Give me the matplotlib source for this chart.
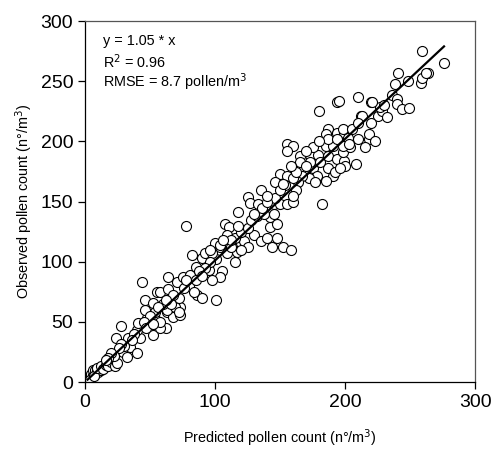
import numpy as np
import matplotlib
matplotlib.use('Agg')
import matplotlib.pyplot as plt

plt.rcParams['font.family'] = ['Liberation Sans', 'DejaVu Sans']

# predicted (x) / observed (y) pollen counts
pred = [3, 4, 5, 5, 6, 7, 6, 8, 8, 9, 10, 10, 11, 12, 13, 4, 7, 9, 12, 14, 16, 18, 20,
        23, 25, 29, 32, 35, 40, 33, 42, 40, 41, 52, 62, 58, 48, 54, 46, 63, 68, 73, 73,
        46, 52, 55, 63, 69, 54, 63, 69, 72, 58, 64, 64, 71, 75, 81, 72, 86, 90, 101,
        85, 90, 95, 101, 105, 104, 98, 82, 92, 100, 104, 98, 109, 113, 117, 122, 125,
        78, 108, 111, 109, 104, 112, 130, 135, 144, 142, 142, 148, 118, 125, 135, 127,
        133, 145, 150, 155, 146, 28, 24, 44, 150, 155, 168, 175, 187, 178, 172, 167,
        191, 146, 154, 164, 177, 185, 165, 173, 179, 165, 173, 181, 187, 194, 199, 208,
        155, 160, 155, 185, 191, 198, 204, 187, 194, 199, 185, 187, 194, 202, 210, 218,
        218, 223, 180, 194, 210, 220, 212, 198, 213, 225, 228, 227, 221, 195, 236, 240,
        240, 244, 249, 238, 241, 248, 258, 259, 264, 259, 276, 262, 182, 152, 158,
        115, 120, 118, 125, 128, 132, 138, 136, 140, 130, 112, 106, 96, 92, 88, 80, 76,
        78, 68, 60, 56, 50, 45, 38, 36, 30, 28, 26, 22, 20, 18, 16, 150, 152, 160, 162,
        158, 160, 162, 170, 175, 180, 170, 198, 205, 210, 215, 220, 230, 232, 200, 192,
        196, 203, 115, 120, 140, 85, 90, 96, 66, 58, 84, 62, 47, 52, 140, 145, 148, 160]
obs = [3, 5, 4, 7, 6, 8, 10, 7, 10, 9, 11, 8, 12, 10, 12, 2, 5, 12, 13, 11, 14, 13, 17,
       13, 16, 25, 21, 29, 24, 37, 37, 43, 49, 39, 45, 45, 53, 52, 60, 58, 54, 56, 62,
       68, 66, 75, 76, 70, 58, 60, 62, 58, 75, 77, 87, 83, 87, 89, 70, 72, 70, 68,
       96, 103, 93, 102, 92, 87, 85, 106, 107, 116, 112, 107, 107, 112, 108, 117, 112,
       130, 131, 129, 122, 114, 112, 122, 117, 112, 129, 137, 131, 141, 154, 160, 149,
       148, 148, 148, 148, 153, 47, 37, 83, 173, 171, 177, 178, 178, 171, 170, 171,
       171, 166, 164, 166, 166, 167, 188, 189, 189, 183, 183, 183, 188, 185, 184, 181,
       198, 196, 192, 196, 196, 191, 195, 210, 207, 207, 206, 202, 202, 203, 202, 202,
       206, 200, 225, 233, 237, 233, 221, 210, 221, 221, 225, 229, 233, 234, 239, 235,
       231, 227, 228, 248, 257, 250, 249, 253, 257, 275, 265, 257, 148, 112, 110,
       120, 125, 130, 128, 135, 138, 140, 145, 150, 140, 118, 118, 100, 95, 92, 80, 78,
       85, 72, 65, 62, 55, 50, 40, 35, 30, 32, 28, 22, 24, 20, 18, 160, 165, 170, 175,
       180, 150, 160, 180, 195, 200, 192, 196, 210, 215, 195, 215, 230, 220, 180, 175,
       178, 198, 100, 110, 120, 85, 88, 110, 65, 50, 75, 68, 45, 48, 155, 140, 120, 155]

# fitted line as drawn
fit_x = [2, 276]
fit_y = [2, 279]

fig = plt.figure(figsize=(4.94, 4.5), dpi=100)
ax = fig.add_axes([0.172, 0.151, 0.79, 0.802])

ax.scatter(pred, obs, s=52, facecolors='white', edgecolors='black', linewidths=0.8, zorder=2)
ax.plot(fit_x, fit_y, color='black', linewidth=1.6, zorder=3)

ax.set_xlim(0, 300)
ax.set_ylim(0, 300)
ax.set_xticks([0, 100, 200, 300])
ax.set_yticks([0, 50, 100, 150, 200, 250, 300])
ax.tick_params(direction='out', length=5, width=0.9, labelsize=14)
for sp in ax.spines.values():
    sp.set_linewidth(0.9)
ax.spines['top'].set_color('#555555')
ax.spines['right'].set_color('#555555')

ax.set_xlabel('Predicted pollen count (n°/m$^3$)', fontsize=10.4, labelpad=12)
ax.set_ylabel('Observed pollen count (n°/m$^3$)', fontsize=10.4, labelpad=4)

ax.text(0.046, 0.944, 'y = 1.05 * x', transform=ax.transAxes, fontsize=10.4, va='center')
ax.text(0.046, 0.887, 'R$^2$ = 0.96', transform=ax.transAxes, fontsize=10.4, va='center')
ax.text(0.046, 0.830, 'RMSE = 8.7 pollen/m$^3$', transform=ax.transAxes, fontsize=10.4, va='center')

plt.savefig('out.png', dpi=100)
